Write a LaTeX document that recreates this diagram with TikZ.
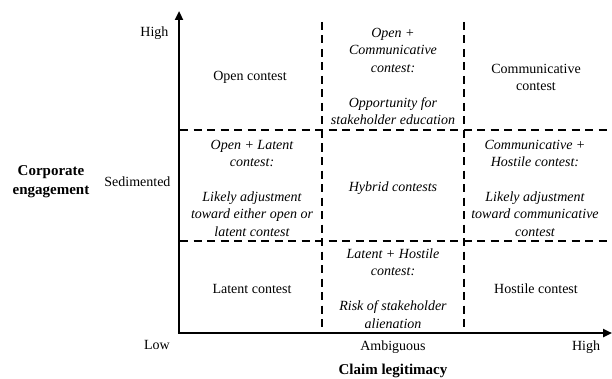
\documentclass[tikz,border=0pt]{standalone}
\usepackage{fontspec}
\setmainfont{Liberation Serif}
\usetikzlibrary{positioning,arrows.meta}

\begin{document}
\begin{tikzpicture}[x=1pt, y=1pt,
  axis/.style={line width=2.4pt, -{Triangle[length=9pt,width=8pt]}},
  divider/.style={line width=2.2pt, dash pattern=on 8pt off 5.5pt},
  cell/.style={align=center, font=\fontsize{14}{17.4}\selectfont},
  mixcell/.style={cell, font=\fontsize{14}{17.4}\selectfont\itshape},
  tick/.style={font=\fontsize{14}{17}\selectfont},
  axtitle/.style={align=center, font=\fontsize{15}{19}\selectfont\bfseries}
]
\useasboundingbox (0,0) rectangle (612,378);

% axes
\coordinate (origin) at (179,45);
\coordinate (ytop) at (179,367);
\coordinate (xend) at (612,45);

% grid of dashed dividers
\coordinate (v1top) at (322,356);
\coordinate (v1bot) at (322,45);
\coordinate (v2top) at (464,356);
\coordinate (v2bot) at (464,45);
\coordinate (h1l) at (180,248);
\coordinate (h1r) at (612,248);
\coordinate (h2l) at (180,137);
\coordinate (h2r) at (612,137);

\draw[divider] (v1top) -- (v1bot);
\draw[divider] (v2top) -- (v2bot);
\draw[divider] (h1l) -- (h1r);
\draw[divider] (h2l) -- (h2r);

\draw[axis] (origin) -- (ytop);
\draw[axis] ([xshift=-1.2pt]origin) -- (xend);

% axis labels
\node[tick, anchor=east] (yhigh) at (172,345) {High};
\node[tick, anchor=east] (ysed) at (174,196) {Sedimented};
\node[tick] (ylow) at (157,33) {Low};
\node[axtitle] (ytitle) at (51,196) {Corporate\\engagement};
\node[tick] (xamb) at (393,31) {Ambiguous};
\node[tick] (xhigh) at (586,31) {High};
\node[axtitle] (xtitle) at (393,7) {Claim legitimacy};

% cells, top row
\node[cell] (open) at (250,301) {Open contest};
\node[mixcell] (opencom) at (393,301.5) {Open +\\Communicative\\contest:\\[17.4pt]Opportunity for\\stakeholder education};
\node[cell] (com) at (536,300.5) {Communicative\\contest};

% middle row
\node[mixcell] (openlat) at (252,190) {Open + Latent\\contest:\\[17.4pt]Likely adjustment\\toward either open or\\latent contest};
\node[mixcell] (hybrid) at (393,190) {Hybrid contests};
\node[mixcell] (comhos) at (535,190) {Communicative +\\Hostile contest:\\[17.4pt]Likely adjustment\\toward communicative\\contest};

% bottom row
\node[cell] (lat) at (252,89) {Latent contest};
\node[mixcell] (lathos) at (393,89.5) {Latent + Hostile\\contest:\\[17.4pt]Risk of stakeholder\\alienation};
\node[cell] (hos) at (536,89) {Hostile contest};
\end{tikzpicture}
\end{document}
